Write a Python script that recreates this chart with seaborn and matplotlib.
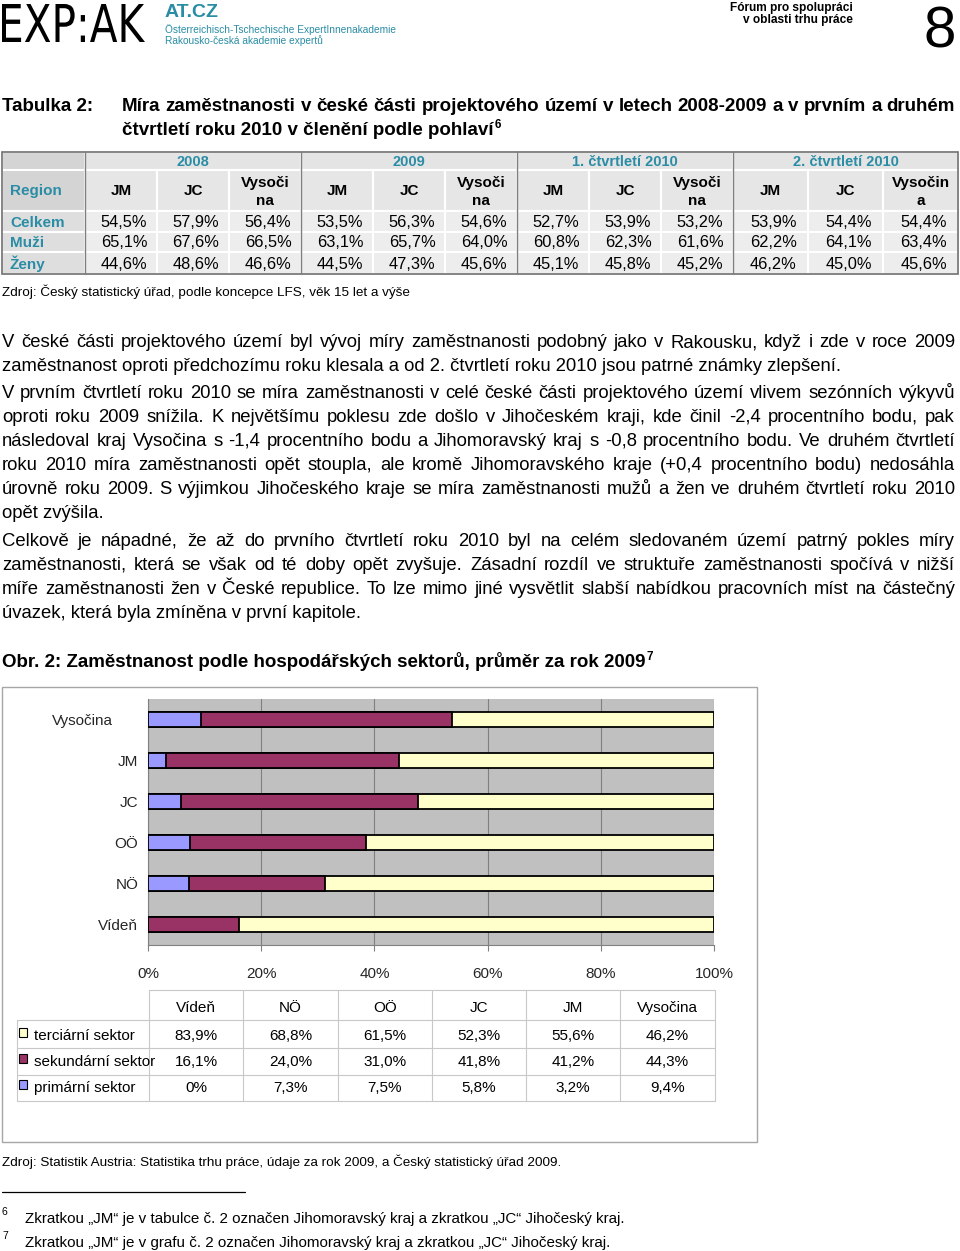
import numpy as np
import pandas as pd
import matplotlib
matplotlib.use("Agg")
import matplotlib.pyplot as plt
from matplotlib.patches import Rectangle, PathPatch
from matplotlib.textpath import TextPath
from matplotlib.font_manager import FontProperties
from matplotlib.transforms import Affine2D, ScaledTranslation
import seaborn as sns

# ---------------- data ----------------
regions = ["Vysočina", "JM", "JC", "OÖ", "NÖ", "Vídeň"]
primary = [9.4, 3.2, 5.8, 7.5, 7.3, 0.0]
secondary = [44.3, 41.2, 41.8, 31.0, 24.0, 16.1]
tertiary = [46.2, 55.6, 52.3, 61.5, 68.8, 83.9]
sector_names = ["terciární sektor", "sekundární sektor", "primární sektor"]
x_ticks = [0, 20, 40, 60, 80, 100]
x_tick_labels = ["0%", "20%", "40%", "60%", "80%", "100%"]

tbl_periods = ["2008", "2009", "1. čtvrtletí 2010", "2. čtvrtletí 2010"]
tbl_regions = ["JM", "JC", "Vysoči\nna"]
tbl_regions_last = ["JM", "JC", "Vysočin\na"]
tbl_rows = ["Celkem", "Muži", "Ženy"]
tbl_celkem = ["54,5%", "57,9%", "56,4%", "53,5%", "56,3%", "54,6%", "52,7%", "53,9%", "53,2%", "53,9%", "54,4%", "54,4%"]
tbl_muzi = ["65,1%", "67,6%", "66,5%", "63,1%", "65,7%", "64,0%", "60,8%", "62,3%", "61,6%", "62,2%", "64,1%", "63,4%"]
tbl_zeny = ["44,6%", "48,6%", "46,6%", "44,5%", "47,3%", "45,6%", "45,1%", "45,8%", "45,2%", "46,2%", "45,0%", "45,6%"]

# ---------------- style ----------------
sns.set_theme(style="white")
plt.rcParams["font.family"] = ["Liberation Sans", "DejaVu Sans"]
TEAL = "#2A8DA5"
C_PRIM, C_SEC, C_TERT = "#9999FF", "#993366", "#FFFFCC"
BODY = 13.3
HEAD = 13.5

fig = plt.figure(figsize=(9.6, 12.51), dpi=100)
page = fig.add_axes([0, 0, 1, 1], zorder=0)
page.set_xlim(0, 960)
page.set_ylim(1251, 0)
page.axis("off")
renderer = fig.canvas.get_renderer()


def T(x, y, s, size=BODY, weight="normal", color="black", ha="left", va="baseline", **kw):
    return page.text(x, y, s, fontsize=size, fontweight=weight, color=color, ha=ha, va=va, **kw)


def justify(s, x0, x1, y, size=BODY, weight="normal"):
    words = s.split(" ")
    objs = [T(0, y, w, size=size, weight=weight) for w in words]
    widths = [o.get_window_extent(renderer).width for o in objs]
    gap = (x1 - x0 - sum(widths)) / max(len(words) - 1, 1)
    x = x0
    for o, w in zip(objs, widths):
        o.set_x(x)
        x += w + gap


# ---------------- header ----------------
tp = TextPath((0, 0), "EXP:AK", size=1, prop=FontProperties(family="DejaVu Sans"))
ext = tp.get_extents()
sx = (145 - 2) / ext.width
sy = (42 - 4) / ext.height
tr = Affine2D().translate(-ext.x0, -ext.y0).scale(sx, -sy).translate(2, 42)
page.add_patch(PathPatch(tr.transform_path(tp), facecolor="black", edgecolor="none"))
T(165, 17, "AT.CZ", size=14, weight="bold", color=TEAL)
T(165, 33, "Österreichisch-Tschechische ExpertInnenakademie", size=7.3, color=TEAL)
T(165, 44, "Rakousko-česká akademie expertů", size=7.3, color=TEAL)
T(853, 11, "Fórum pro spolupráci", size=8.6, weight="bold", ha="right")
T(853, 23, "v oblasti trhu práce", size=8.6, weight="bold", ha="right")
T(940, 47, "8", size=42, ha="center")

# ---------------- table title ----------------
T(2, 111, "Tabulka 2:", size=HEAD, weight="bold")
justify("Míra zaměstnanosti v české části projektového území v letech 2008-2009 a v prvním a druhém",
        122, 955, 111, size=HEAD, weight="bold")
t2 = T(122, 135, "čtvrtletí roku 2010 v členění podle pohlaví", size=HEAD, weight="bold")
w2 = t2.get_window_extent(renderer).width
T(122 + w2 + 1, 128, "6", size=8.5, weight="bold")

# ---------------- top table ----------------
tx0, tx1 = 2, 958
col0 = 85
gb = [85, 301, 517, 733, 958]
ry = [152, 170, 211, 232, 252, 274]
page.add_patch(Rectangle((tx0, ry[0]), col0 - tx0, ry[1] - ry[0], fc="#D4D4D4", ec="white", lw=1.5))
for g in range(4):
    page.add_patch(Rectangle((gb[g], ry[0]), gb[g + 1] - gb[g], ry[1] - ry[0], fc="#E4E4E4", ec="white", lw=1.5))
    T((gb[g] + gb[g + 1]) / 2, ry[1] - 4, tbl_periods[g], size=10.5, weight="bold", color=TEAL, ha="center")
page.add_patch(Rectangle((tx0, ry[1]), col0 - tx0, ry[2] - ry[1], fc="#D4D4D4", ec="white", lw=1.5))
T(10, 195, "Region", size=11, weight="bold", color=TEAL)
colx = []
for g in range(4):
    w = (gb[g + 1] - gb[g]) / 3
    labels = tbl_regions_last if g == 3 else tbl_regions
    for k in range(3):
        x = gb[g] + k * w
        colx.append(x + w / 2)
        page.add_patch(Rectangle((x, ry[1]), w, ry[2] - ry[1], fc="#E6E6E6", ec="white", lw=1.5))
        lab = labels[k]
        if "\n" in lab:
            a, b = lab.split("\n")
            T(x + w / 2, 187, a, size=11, weight="bold", ha="center")
            T(x + w / 2, 205, b, size=11, weight="bold", ha="center")
        else:
            T(x + w / 2, 195, lab, size=11, weight="bold", ha="center")
for r, (name, vals) in enumerate(zip(tbl_rows, [tbl_celkem, tbl_muzi, tbl_zeny])):
    y0, y1 = ry[2 + r], ry[3 + r]
    page.add_patch(Rectangle((tx0, y0), col0 - tx0, y1 - y0, fc="#DEDEDE", ec="white", lw=1.5))
    T(10, y1 - 5, name, size=11, weight="bold", color=TEAL)
    for g in range(4):
        w = (gb[g + 1] - gb[g]) / 3
        for k in range(3):
            x = gb[g] + k * w
            page.add_patch(Rectangle((x, y0), w, y1 - y0, fc="#EDEDED", ec="white", lw=1.5))
    for j, v in enumerate(vals):
        T(colx[j] + 3, y1 - 5, v, size=11.8, ha="center")
for x in gb[:-1]:
    page.plot([x, x], [ry[0], ry[-1]], color="#7F7F7F", lw=1)
page.add_patch(Rectangle((tx0, ry[0]), tx1 - tx0, ry[-1] - ry[0], fc="none", ec="#6F6F6F", lw=1.2))

T(2, 296, "Zdroj: Český statistický úřad, podle koncepce LFS, věk 15 let a výše", size=9.7)

# ---------------- body text ----------------
paras = [
    ["V české části projektového území byl vývoj míry zaměstnanosti podobný jako v Rakousku, když i zde v roce 2009",
     "zaměstnanost oproti předchozímu roku klesala a od 2. čtvrtletí roku 2010 jsou patrné známky zlepšení."],
    ["V prvním čtvrtletí roku 2010 se míra zaměstnanosti v celé české části projektového území vlivem sezónních výkyvů",
     "oproti roku 2009 snížila. K největšímu poklesu zde došlo v Jihočeském kraji, kde činil -2,4 procentního bodu, pak",
     "následoval kraj Vysočina s -1,4 procentního bodu a Jihomoravský kraj s -0,8 procentního bodu. Ve druhém čtvrtletí",
     "roku 2010 míra zaměstnanosti opět stoupla, ale kromě Jihomoravského kraje (+0,4 procentního bodu) nedosáhla",
     "úrovně roku 2009. S výjimkou Jihočeského kraje se míra zaměstnanosti mužů a žen ve druhém čtvrtletí roku 2010",
     "opět zvýšila."],
    ["Celkově je nápadné, že až do prvního čtvrtletí roku 2010 byl na celém sledovaném území patrný pokles míry",
     "zaměstnanosti, která se však od té doby opět zvyšuje. Zásadní rozdíl ve struktuře zaměstnanosti spočívá v nižší",
     "míře zaměstnanosti žen v České republice. To lze mimo jiné vysvětlit slabší nabídkou pracovních míst na částečný",
     "úvazek, která byla zmíněna v první kapitole."],
]
baselines = [[347, 371], [398, 422, 446, 470, 494, 518], [546, 570, 594, 618]]
for lines, ys in zip(paras, baselines):
    for i, (ln, y) in enumerate(zip(lines, ys)):
        if i < len(lines) - 1:
            justify(ln, 2, 955, y)
        else:
            T(2, y, ln)

t3 = T(2, 667, "Obr. 2: Zaměstnanost podle hospodářských sektorů, průměr za rok 2009", size=HEAD, weight="bold")
w3 = t3.get_window_extent(renderer).width
T(2 + w3 + 1, 660, "7", size=8.5, weight="bold")

# ---------------- chart ----------------
page.add_patch(Rectangle((2, 687), 755, 455, fc="none", ec="#A6A6A6", lw=1))

p = np.array(primary)
s = np.array(secondary)
t = np.array(tertiary)
tot = p + s + t
df = pd.DataFrame({
    "region": regions,
    "c_prim": p / tot * 100,
    "c_sec": (p + s) / tot * 100,
    "c_tert": (p + s + t) / tot * 100,
})

L, R, TOP, BOT = 148, 714, 699, 945
axc = fig.add_axes([L / 960, 1 - BOT / 1251, (R - L) / 960, (BOT - TOP) / 1251], zorder=2)
axc.set_facecolor("#C0C0C0")
for col, c in [("c_tert", C_TERT), ("c_sec", C_SEC), ("c_prim", C_PRIM)]:
    sns.barplot(data=df, x=col, y="region", order=regions, color=c, orient="h",
                width=0.38, edgecolor="black", linewidth=1.3, saturation=1, ax=axc, zorder=3)
axc.set_xlim(0, 100)
axc.set_xticks(x_ticks)
axc.set_xticklabels(x_tick_labels, fontsize=11)
axc.set_xlabel("")
axc.set_ylabel("")
axc.tick_params(axis="y", length=0, pad=7, labelsize=11)
axc.tick_params(axis="x", length=4, width=0.8, color="#808080", pad=12, bottom=True)
axc.grid(axis="x", color="#808080", lw=0.8, zorder=0)
axc.grid(axis="y", visible=False)
axc.set_axisbelow(True)
for side in ["top", "right"]:
    axc.spines[side].set_visible(False)
for side in ["left", "bottom"]:
    axc.spines[side].set_visible(True)
    axc.spines[side].set_color("#808080")
    axc.spines[side].set_linewidth(0.8)
# the first category label sits further left in the original
first_lbl = axc.get_yticklabels()[0]
first_lbl.set_transform(first_lbl.get_transform() + ScaledTranslation(-0.25, 0, fig.dpi_scale_trans))

# ---------------- chart data table ----------------
tcols = regions[::-1]
tvals = {
    "terciární sektor": tertiary[::-1],
    "sekundární sektor": secondary[::-1],
    "primární sektor": primary[::-1],
}
sw_colors = [C_TERT, C_SEC, C_PRIM]
vx = [149, 243, 338, 432, 526, 620, 715]
hy = [990, 1020, 1048, 1075, 1101]
LC = "#C8C8C8"
page.plot([vx[0], vx[-1]], [hy[0], hy[0]], color=LC, lw=0.8)
for y in hy[1:]:
    page.plot([17, vx[-1]], [y, y], color=LC, lw=0.8)
for x in vx:
    page.plot([x, x], [hy[0], hy[-1]], color=LC, lw=0.8)
page.plot([17, 17], [hy[1], hy[-1]], color=LC, lw=0.8)
for j, name in enumerate(tcols):
    T((vx[j] + vx[j + 1]) / 2, 1012, name, size=11, ha="center")


def fmt(v):
    return "0%" if v == 0 else f"{v:.1f}%".replace(".", ",")


row_base = [1040, 1066, 1092]
for i, nm in enumerate(sector_names):
    yb = row_base[i]
    page.add_patch(Rectangle((19, yb - 12), 8, 9, fc=sw_colors[i], ec="black", lw=0.8))
    T(34, yb, nm, size=11)
    for j, v in enumerate(tvals[nm]):
        T((vx[j] + vx[j + 1]) / 2, yb, fmt(v), size=11, ha="center")

# ---------------- sources & footnotes ----------------
T(2, 1166, "Zdroj: Statistik Austria: Statistika trhu práce, údaje za rok 2009, a Český statistický úřad 2009.", size=9.7)
page.plot([2, 245], [1192, 1192], color="black", lw=0.9)
T(2, 1215, "6", size=7.5)
T(25, 1223, "Zkratkou „JM“ je v tabulce č. 2 označen Jihomoravský kraj a zkratkou „JC“ Jihočeský kraj.", size=10.9)
T(2, 1239, "7", size=7.5)
T(25, 1247, "Zkratkou „JM“ je v grafu č. 2 označen Jihomoravský kraj a zkratkou „JC“ Jihočeský kraj.", size=10.9)

fig.savefig("out.png", dpi=100)
